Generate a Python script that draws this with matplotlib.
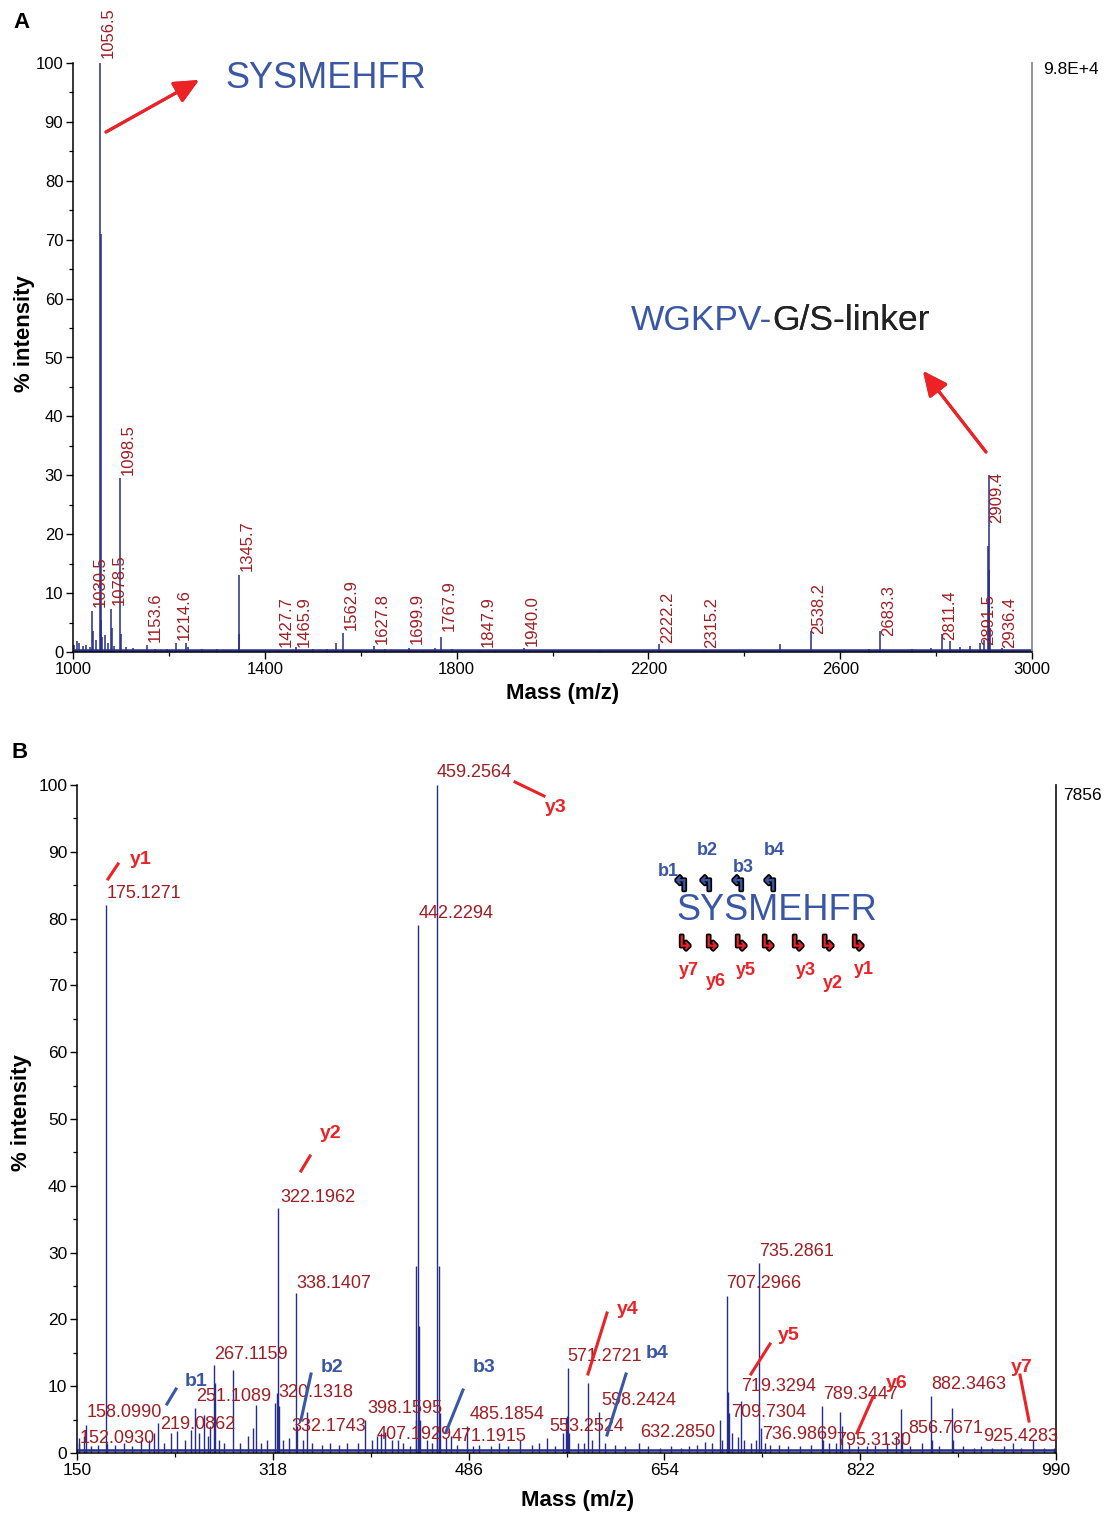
import matplotlib
matplotlib.use('Agg')
import matplotlib.pyplot as plt
import matplotlib.patheffects as pe
from matplotlib.lines import Line2D
import numpy as np

plt.rcParams['font.family'] = ['Liberation Sans', 'DejaVu Sans']

# ---- panel A: MS spectrum (m/z, % intensity)
mz_a = [1003, 1008, 1012, 1020, 1027, 1035, 1040, 1042, 1047, 1056.5, 1057.5, 1058.5, 1059.5,
        1066, 1073, 1079, 1080.5, 1086, 1098.5, 1099.5, 1110, 1125, 1153.6, 1170, 1195, 1214.6,
        1235, 1240, 1270, 1300, 1345.7, 1347, 1400, 1427.7, 1465.9, 1500, 1530, 1549, 1563, 1600,
        1627.8, 1650, 1699.9, 1730, 1755, 1767.9, 1790, 1847.9, 1880, 1940.0, 1950, 2000, 2100,
        2222.2, 2315.2, 2400, 2474, 2538.2, 2600, 2660, 2683.3, 2750, 2790, 2811.4, 2830, 2850,
        2870, 2891.5, 2900, 2908.4, 2909.4, 2910.4, 2911.4, 2936.4, 2960]
int_a = [1.2, 1.8, 1.5, 1.0, 1.2, 0.8, 7.0, 3.5, 2.0, 100, 71, 5.5, 2.5,
         2.9, 1.5, 7.3, 4.0, 1.0, 29.5, 3.0, 0.8, 0.6, 1.2, 0.5, 0.5, 1.5,
         1.5, 0.8, 0.5, 0.5, 13, 3.0, 0.4, 0.4, 0.8, 0.5, 0.5, 1.6, 3.2, 0.4,
         1.0, 0.5, 0.7, 0.4, 0.6, 2.6, 0.5, 0.4, 0.4, 0.7, 0.4, 0.4, 0.4,
         1.3, 0.4, 0.4, 1.3, 3.6, 0.4, 0.5, 3.5, 0.5, 0.6, 3.0, 1.8, 0.8,
         1.0, 1.5, 2.0, 18, 30, 14, 4.0, 0.7, 0.4]
base_a = 0.35

lab_a_txt = ['1030.5', '1056.5', '1078.5', '1098.5', '1153.6', '1214.6', '1345.7', '1427.7',
             '1465.9', '1562.9', '1627.8', '1699.9', '1767.9', '1847.9', '1940.0', '2222.2',
             '2315.2', '2538.2', '2683.3', '2811.4', '2891.5', '2909.4', '2936.4']
lab_a_mz = [1040, 1056.5, 1079, 1098.5, 1153.6, 1214.6, 1345.7, 1427.7,
            1465.9, 1563, 1627.8, 1699.9, 1767.9, 1847.9, 1940.0, 2222.2,
            2315.2, 2538.2, 2683.3, 2811.4, 2891.5, 2909.4, 2936.4]
lab_a_base = [7.6, 100.8, 8.0, 30.1, 1.7, 2.0, 13.8, 0.9,
              0.9, 3.7, 1.4, 1.4, 3.6, 0.9, 1.0, 1.5,
              0.7, 3.1, 2.7, 2.0, 1.2, 21.9, 0.7]

# ---- panel B: MS/MS spectrum
mz_b = [151.5, 152.09, 156, 158.10, 162, 168, 175.13, 176.13, 183, 190, 197, 205, 212, 216, 219.09,
        225, 231, 236, 243, 248, 251.11, 255, 259, 262, 264, 267.12, 268.12, 272, 276, 284, 290,
        297, 301, 304, 308, 313, 320.13, 321.2, 322.20, 323.2, 327, 332.17, 338.14, 339.14, 344,
        347, 352, 360, 367, 375, 382, 391, 397, 403, 407.19, 411, 414, 420, 425, 430, 436, 440.5,
        441.2, 442.23, 443.2, 444.2, 450, 455, 458.5, 459.26, 460.26, 461.3, 467, 471.19, 476,
        484.8, 490, 495, 505, 512, 520, 530, 540, 546, 553.25, 560, 567, 569.3, 570.3, 571.27,
        572.3, 580, 585, 588.8, 592, 598.24, 603, 612, 620, 632.29, 640, 650, 660, 668, 675, 682,
        689, 695, 702, 703.5, 707.30, 708.3, 709.73, 712, 717, 719.33, 722, 728, 733, 735.29,
        736.99, 740, 745, 752, 760, 770, 780, 789.34, 790.5, 795.31, 801, 805, 806.3, 812, 820,
        828, 835, 845, 853, 856.77, 858, 865, 875, 882.35, 883.4, 890, 900.7, 902, 910, 920,
        925.43, 935, 945, 952.8, 960, 970, 980, 988]
int_b = [1.5, 2.2, 2.5, 4.2, 1.0, 1.2, 82, 1.5, 1.2, 1.5, 1.0, 2.0, 2.0, 3.0, 4.5,
         1.5, 3.0, 3.3, 2.0, 3.5, 6.7, 3.0, 5.7, 2.5, 4.0, 13.2, 10.5, 2.0, 1.5, 12.4, 1.5,
         2.5, 3.7, 7.2, 1.5, 2.0, 7.5, 9.0, 36.7, 7.0, 2.0, 2.2, 24, 4.0, 2.0,
         6.2, 1.5, 1.2, 1.5, 1.2, 1.5, 1.5, 5.0, 2.0, 2.5, 3.0, 3.2, 2.0, 2.0, 1.5, 1.0, 5.0,
         28, 79, 19, 5.0, 2.0, 1.5, 4.0, 100, 28, 6.0, 2.3, 2.5, 1.2,
         4.0, 1.0, 1.2, 1.0, 1.5, 1.0, 2.0, 1.2, 1.5, 2.2, 1.0, 3.0, 5.2, 5.5, 12.7,
         3.0, 1.5, 1.5, 10.5, 2.0, 6.2, 1.5, 1.2, 1.0, 1.5, 1.0, 0.8, 1.0, 0.8, 1.0, 1.2,
         1.7, 1.5, 5.0, 2.0, 23.5, 9.2, 6.0, 3.0, 2.4, 7.8, 2.0, 1.5, 2.0, 28.5,
         3.7, 1.5, 1.2, 1.2, 1.0, 1.0, 1.2, 7.1, 2.0, 1.5, 1.5, 6.2, 4.0, 1.5, 1.0,
         1.0, 1.2, 1.5, 2.5, 6.6, 3.0, 1.0, 1.5, 8.5, 2.0, 1.0, 6.8, 2.0, 1.0, 0.8,
         1.0, 0.8, 1.0, 1.5, 0.8, 2.0, 0.8, 0.8]
base_b = 0.4

lab_b_txt = ['175.1271', '459.2564', '442.2294', '322.1962', '338.1407', '267.1159', '251.1089',
             '320.1318', '158.0990', '219.0862', '332.1743', '152.0930', '398.1595', '407.1929',
             '471.1915', '485.1854', '553.2524', '571.2721', '598.2424', '632.2850', '707.2966',
             '735.2861', '719.3294', '709.7304', '736.9869', '789.3447', '795.3130', '856.7671',
             '882.3463', '925.4283']
lab_b_x = [175.7, 458.9, 443.4, 324.2, 337.9, 267.5, 252.1,
           322.5, 158.6, 221.2, 333.6, 152.6, 398.8, 407.4,
           471.7, 487.2, 555.0, 570.4, 599.6, 633.1, 706.8,
           735.2, 719.7, 711.1, 737.7, 790.1, 801.2, 863.0,
           882.7, 927.3]
lab_b_y = [83.8, 101.9, 80.7, 38.2, 25.4, 14.8, 8.5,
           9.0, 6.0, 4.3, 3.9, 2.1, 6.6, 2.7,
           2.4, 5.7, 3.9, 14.4, 7.8, 3.0, 25.4,
           30.1, 10.0, 6.1, 2.8, 8.8, 1.8, 3.7,
           10.2, 2.4]

# fragment ion callouts: name, colour key, text position, leader line (reference pixels)
ions = [('y1', 'r', (141, 859), (108, 879, 118, 864)),
        ('y3', 'r', (556, 808), (515, 782, 544, 796)),
        ('y2', 'r', (331, 1133), (301, 1171, 310, 1156)),
        ('b1', 'b', (196, 1382), (167, 1404, 176, 1389)),
        ('b2', 'b', (332, 1367), (301, 1420, 311, 1374)),
        ('b3', 'b', (484, 1367), (446, 1432, 463, 1390)),
        ('y4', 'r', (628, 1309), (588, 1374, 607, 1313)),
        ('b4', 'b', (657, 1354), (607, 1435, 626, 1374)),
        ('y5', 'r', (789, 1336), (751, 1374, 770, 1344)),
        ('y6', 'r', (897, 1384), (857, 1433, 873, 1397)),
        ('y7', 'r', (1022, 1367), (1020, 1375, 1029, 1421))]

navy = '#262d8c'
labred = '#a11d22'
red = '#ec2227'
blue = '#3a57a7'
W, H = 1107, 1514


def fp(x, y):
    return x / W, 1 - y / H


fig = plt.figure(figsize=(W / 100, H / 100), dpi=100)
axa = fig.add_axes([73 / W, 1 - 652 / H, (1032 - 73) / W, (652 - 63) / H])
axb = fig.add_axes([77 / W, 1 - 1453 / H, (1056 - 77) / W, (1453 - 785) / H])


def style(ax, xt, xm, rcol, fs):
    ax.set_xlim(xt[0], xt[-1])
    ax.set_ylim(0, 100)
    ax.set_xticks(xt)
    ax.set_xticks(xm, minor=True)
    ax.set_yticks(np.arange(0, 101, 10))
    ax.set_yticks(np.arange(0, 101, 5), minor=True)
    ax.spines['top'].set_visible(False)
    ax.spines['right'].set_color(rcol)
    ax.spines['right'].set_linewidth(1.3)
    for s in ['left', 'bottom']:
        ax.spines[s].set_linewidth(1.1)
    ax.tick_params(direction='out', length=5, width=1, labelsize=fs, pad=2)
    ax.tick_params(which='minor', direction='out', length=3, width=0.9)
    ax.set_xlabel('Mass (m/z)', fontsize=16, fontweight='bold')
    ax.set_ylabel('% intensity', fontsize=16, fontweight='bold')


# panel A
style(axa, np.arange(1000, 3001, 400), np.arange(1000, 3001, 200), '#8a8a8a', 12)
axa.axhline(base_a, color=navy, lw=1.8)
axa.vlines(mz_a, 0, int_a, color=navy, lw=1.1)
for t, m, y in zip(lab_a_txt, lab_a_mz, lab_a_base):
    axa.annotate(t, (m, y), xytext=(6, 0), textcoords='offset points', rotation=90,
                 ha='center', va='bottom', fontsize=12, color=labred, annotation_clip=False)
axa.xaxis.set_label_coords(0.511, -0.052)
axa.yaxis.set_label_coords(-0.040, 0.54)

# panel B
style(axb, np.arange(150, 991, 168), np.arange(150, 991, 84), '#222222', 12.5)
axb.axhline(base_b, color=navy, lw=1.8)
axb.vlines(mz_b, 0, int_b, color=navy, lw=1.0)
for t, x, y in zip(lab_b_txt, lab_b_x, lab_b_y):
    axb.text(x, y, t, ha='left', va='center', fontsize=13, color=labred, clip_on=False)
axb.xaxis.set_label_coords(0.511, -0.056)
axb.yaxis.set_label_coords(-0.046, 0.51)

for name, c, (tx, ty), (x1, y1, x2, y2) in ions:
    col = red if c == 'r' else blue
    a, b = fp(x1, y1)
    cc, d = fp(x2, y2)
    fig.add_artist(Line2D([a, cc], [b, d], transform=fig.transFigure, color=col, lw=2.2))
    fig.text(*fp(tx, ty), name, ha='center', va='center', fontsize=14,
             fontweight='bold', color=col)

# panel letters, scale values
fig.text(*fp(22, 22), 'A', fontsize=16, fontweight='bold', ha='center', va='center')
fig.text(*fp(20, 752), 'B', fontsize=16, fontweight='bold', ha='center', va='center')
fig.text(*fp(1043, 70), '9.8E+4', fontsize=12.5, ha='left', va='center')
fig.text(*fp(1063, 796), '7856', fontsize=12.5, ha='left', va='center')

# panel A peptide annotations
fig.text(*fp(225, 79), 'SYSMEHFR', fontsize=26, color=blue, ha='left', va='center')
t1 = fig.text(*fp(631, 320), 'WGKPV-', fontsize=25.5, color=blue, ha='left', va='center')
fig.add_artist(plt.annotate('G/S-linker', xy=(1, 0), xycoords=t1, fontsize=25.5,
                            color='#222222', ha='left', va='bottom'))
arw = dict(arrowstyle='-|>,head_length=0.75,head_width=0.35', color=red, lw=2.2,
           mutation_scale=20, shrinkA=0, shrinkB=0)
fig.add_artist(plt.annotate('', xy=fp(199, 80), xytext=fp(106, 132),
                            xycoords='figure fraction', arrowprops=arw))
fig.add_artist(plt.annotate('', xy=fp(923, 371), xytext=fp(986, 452),
                            xycoords='figure fraction', arrowprops=arw))

# panel B fragmentation diagram
fig.text(*fp(676, 911), 'SYSMEHFR', fontsize=26, color=blue, ha='left', va='center')
outline = [pe.withStroke(linewidth=2.5, foreground='black')]
for x in [681, 706, 738, 770]:
    fig.text(*fp(x, 885), '\u21b0', fontsize=14, fontweight='bold', color=blue,
             ha='center', va='center', path_effects=outline, family='DejaVu Sans')
for x in [685, 712, 741, 768, 798, 828, 858]:
    fig.text(*fp(x, 944), '\u21b3', fontsize=14, fontweight='bold', color=red,
             ha='center', va='center', path_effects=outline, family='DejaVu Sans')
for name, x, y in [('b1', 668, 871), ('b2', 707, 851), ('b3', 743, 867), ('b4', 774, 851)]:
    fig.text(*fp(x, y), name, fontsize=13, fontweight='bold', color=blue, ha='center', va='center')
for name, x, y in [('y7', 689, 971), ('y6', 716, 982), ('y5', 746, 971),
                   ('y3', 806, 971), ('y2', 833, 983), ('y1', 864, 970)]:
    fig.text(*fp(x, y), name, fontsize=13, fontweight='bold', color=red, ha='center', va='center')

fig.savefig('out.png', dpi=100)
